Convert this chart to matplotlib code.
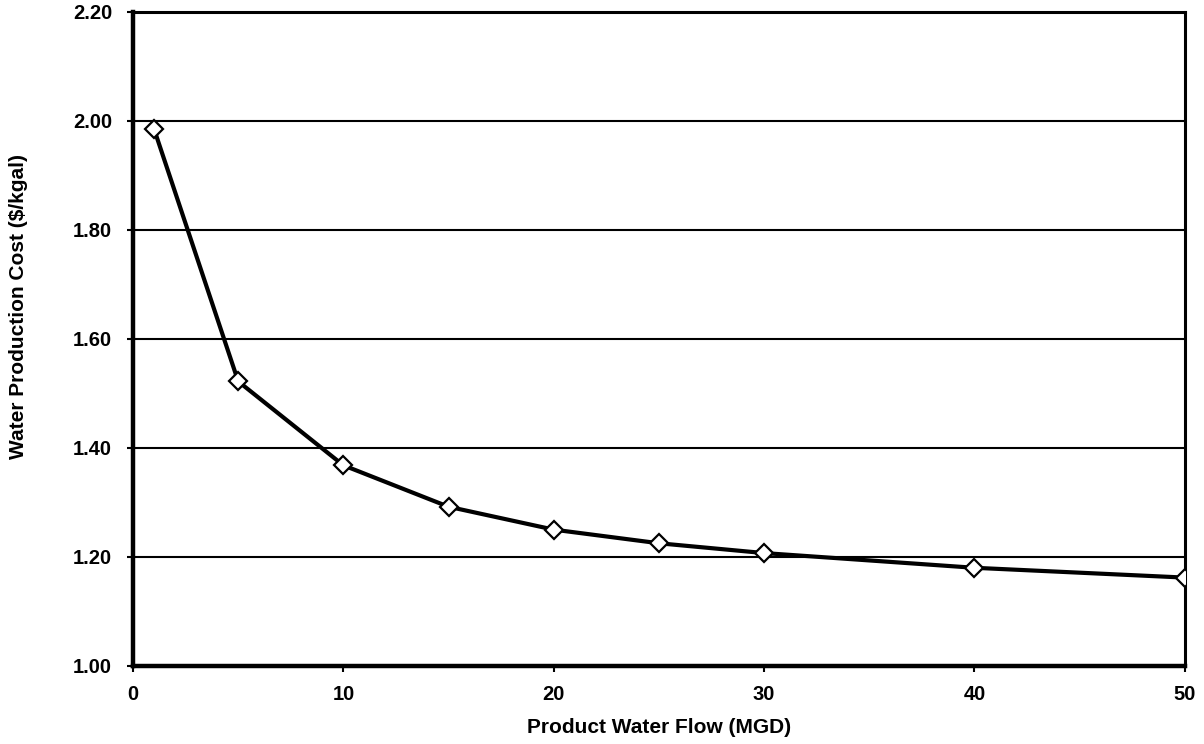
import matplotlib
matplotlib.use("Agg")
import matplotlib.pyplot as plt

# product water flow (MGD) vs water production cost ($/kgal)
flow_mgd = [1, 5, 10, 15, 20, 25, 30, 40, 50]
cost_per_kgal = [1.985, 1.522, 1.368, 1.292, 1.250, 1.225, 1.207, 1.180, 1.162]

x_ticks = [0, 10, 20, 30, 40, 50]
y_ticks = [1.00, 1.20, 1.40, 1.60, 1.80, 2.00, 2.20]

plt.rcParams["font.family"] = ["Liberation Sans", "DejaVu Sans"]

fig = plt.figure(figsize=(12.04, 7.44), dpi=100)
ax = fig.add_axes([0.1105, 0.105, 0.8735, 0.879])

ax.plot(flow_mgd, cost_per_kgal, color="black", linewidth=3, zorder=3,
        marker="D", markersize=9, markerfacecolor="white",
        markeredgecolor="black", markeredgewidth=1.6)

ax.set_xlim(0, 50)
ax.set_ylim(1.0, 2.2)
ax.set_xticks(x_ticks)
ax.set_yticks(y_ticks)
ax.set_yticklabels([f"{v:.2f}" for v in y_ticks])
ax.grid(axis="y", color="black", linewidth=1.5)
ax.set_axisbelow(True)

for side in ["left", "bottom"]:
    ax.spines[side].set_linewidth(3.2)
for side in ["top", "right"]:
    ax.spines[side].set_linewidth(2.2)

ax.tick_params(axis="both", direction="out", length=4, width=1.5,
               labelsize=14.5, colors="black")
for lab in ax.get_xticklabels() + ax.get_yticklabels():
    lab.set_fontweight("bold")
ax.tick_params(axis="x", pad=10)
ax.tick_params(axis="y", pad=11)

ax.set_xlabel("Product Water Flow (MGD)", fontsize=15, fontweight="bold", labelpad=10)
ax.set_ylabel("Water Production Cost ($/kgal)", fontsize=15, fontweight="bold")
ax.yaxis.set_label_coords(-0.100, 0.549)

fig.savefig("out.png", dpi=100)
